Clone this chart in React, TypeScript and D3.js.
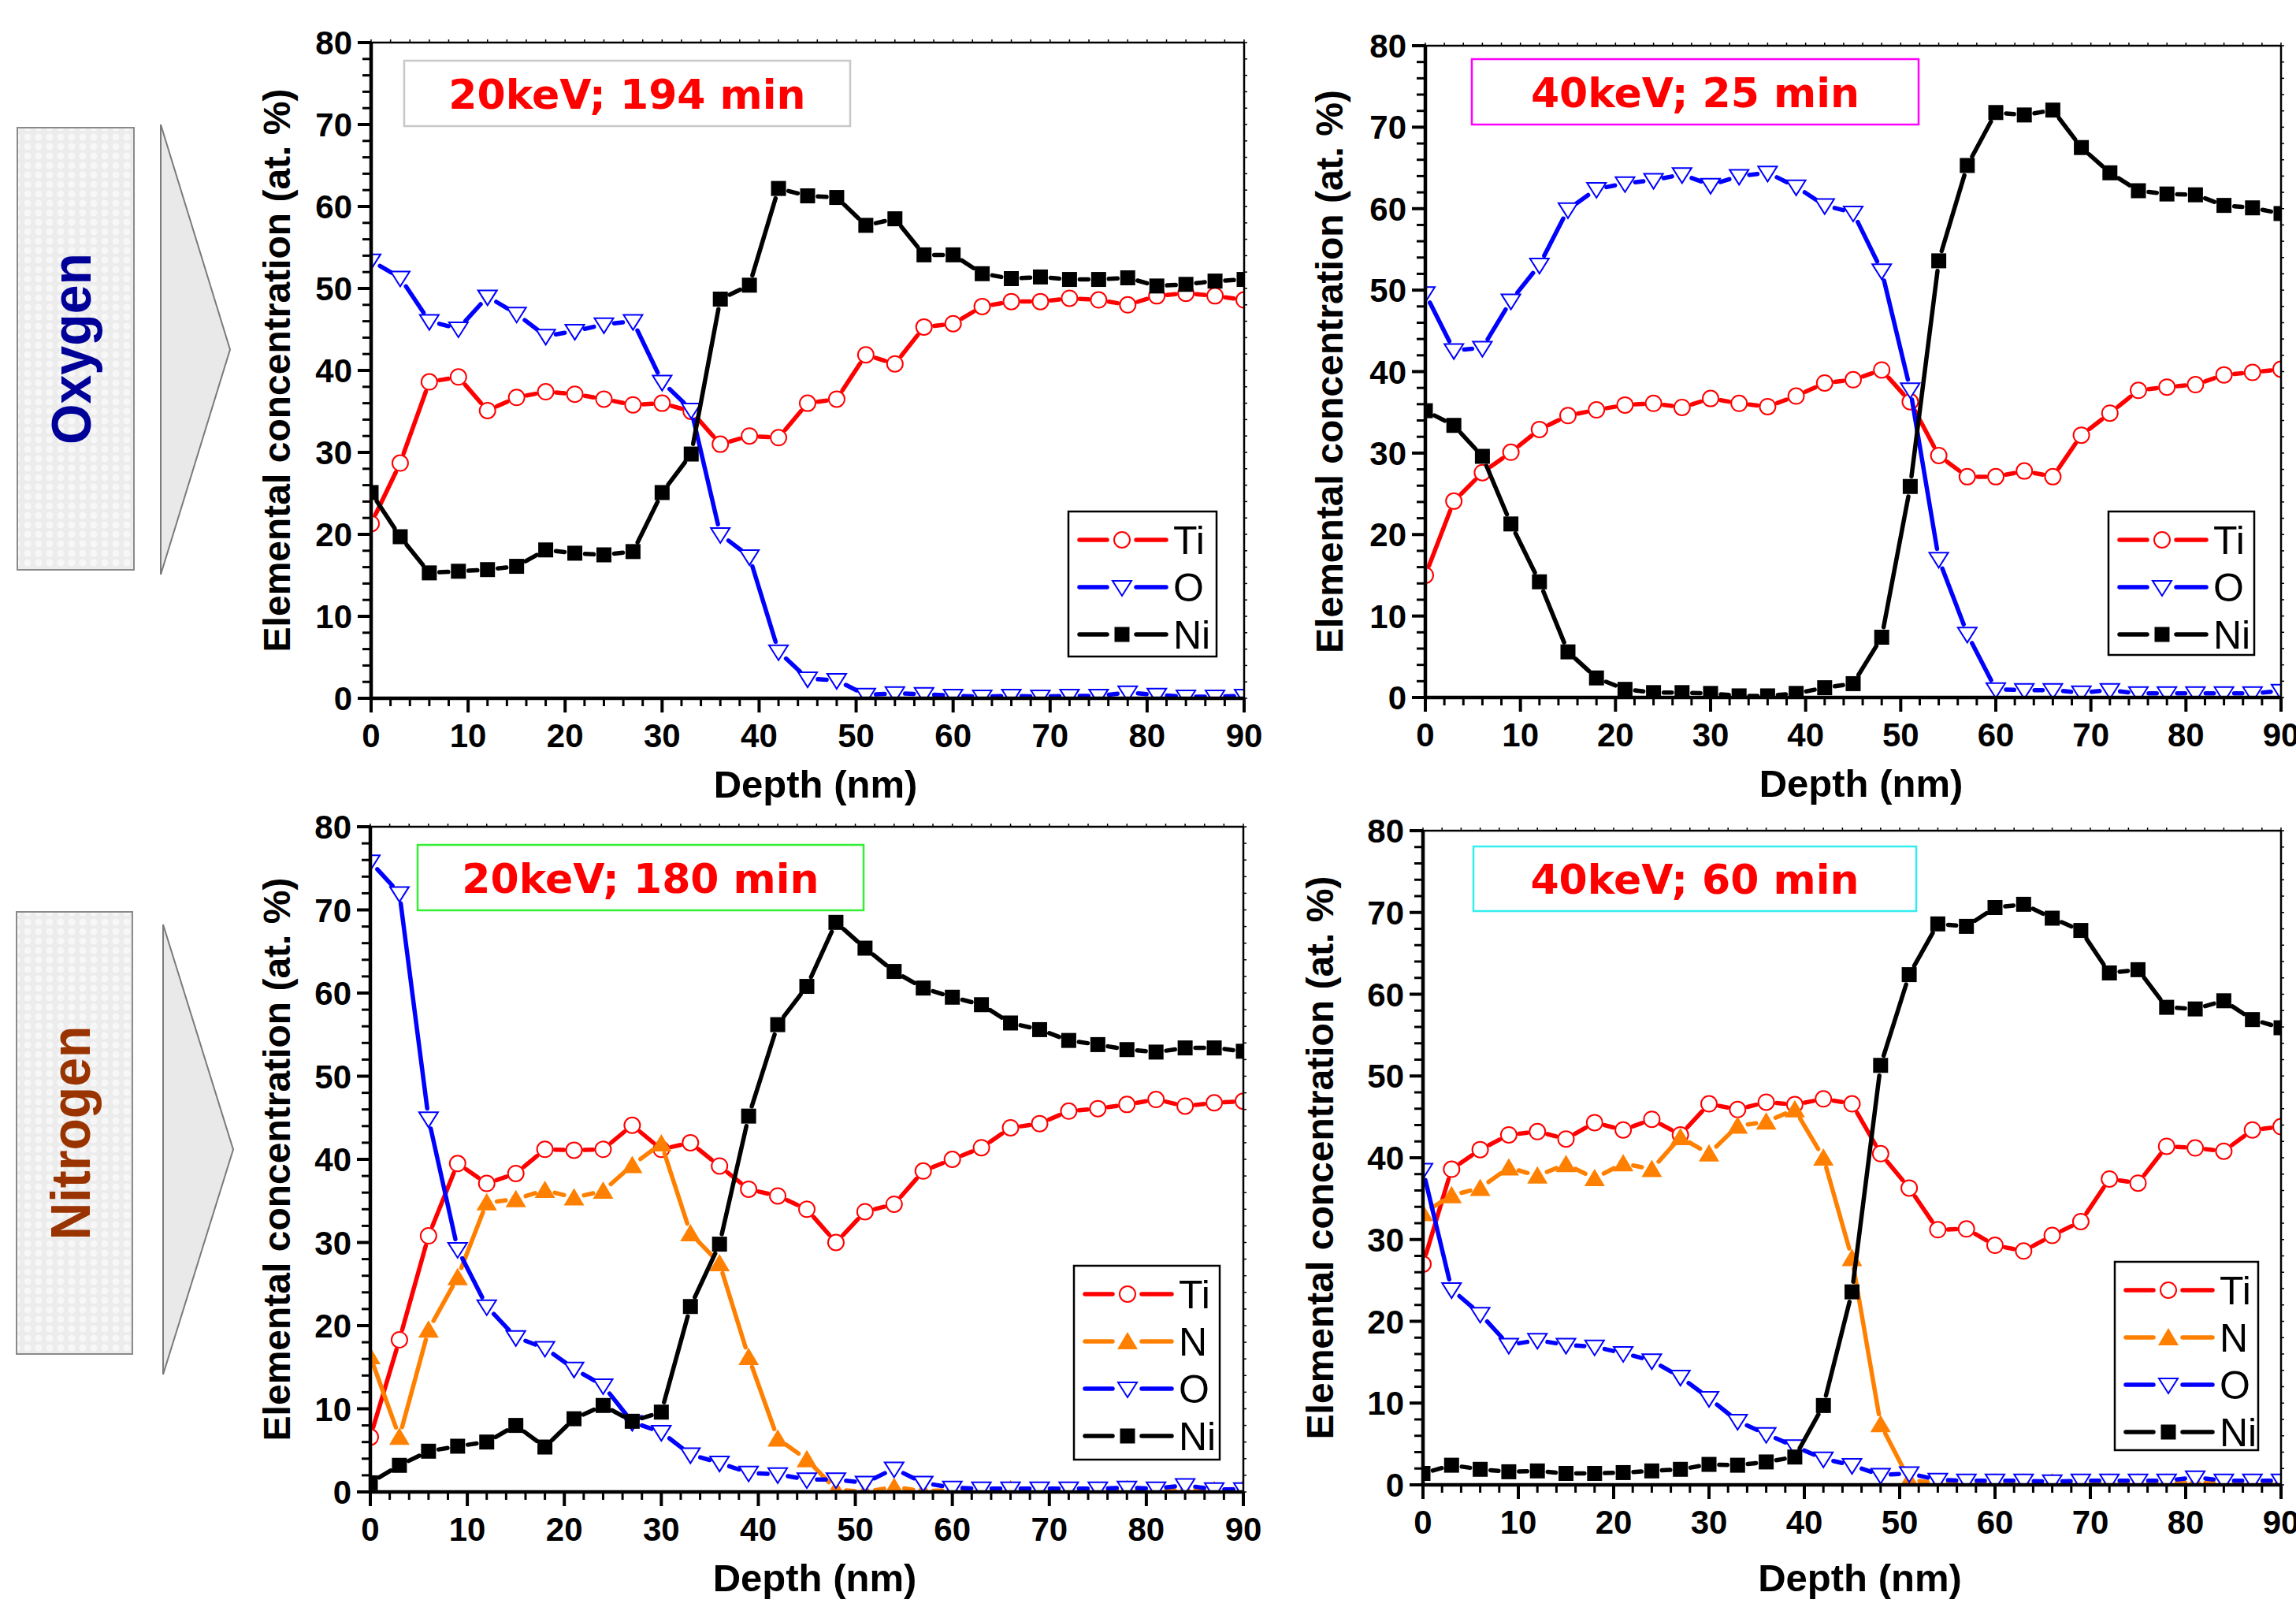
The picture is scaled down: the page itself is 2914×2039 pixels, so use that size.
import React from 'react';
import * as d3 from 'd3';

const W = 2914;
const H = 2039;

// depth (nm) sampling positions
const depth = [0, 3, 6, 9, 12, 15, 18, 21, 24, 27, 30, 33, 36, 39, 42, 45, 48, 51, 54, 57, 60, 63, 66, 69, 72, 75, 78, 81, 84, 87, 90];

const xTicks = [0, 10, 20, 30, 40, 50, 60, 70, 80, 90];
const yTicks = [0, 10, 20, 30, 40, 50, 60, 70, 80];

// Panel 1: Oxygen, 20keV; 194 min
const ox20Ti = [21.3, 28.7, 38.6, 39.2, 35.1, 36.7, 37.4, 37.1, 36.5, 35.8, 36.0, 35.0, 31.0, 32.0, 31.8, 36.0, 36.5, 41.9, 40.8, 45.3, 45.7, 47.8, 48.4, 48.4, 48.8, 48.6, 48.0, 49.1, 49.4, 49.1, 48.6];
const ox20O = [53.4, 51.3, 46.0, 45.1, 49.0, 46.9, 44.2, 44.8, 45.6, 46.0, 38.6, 35.2, 20.0, 17.3, 5.7, 2.4, 2.2, 0.4, 0.6, 0.5, 0.3, 0.2, 0.3, 0.2, 0.3, 0.3, 0.7, 0.4, 0.2, 0.2, 0.3];
const ox20Ni = [25.1, 19.7, 15.3, 15.5, 15.7, 16.1, 18.1, 17.7, 17.5, 17.9, 25.1, 29.8, 48.7, 50.4, 62.2, 61.3, 61.1, 57.7, 58.5, 54.1, 54.1, 51.8, 51.2, 51.4, 51.1, 51.1, 51.3, 50.3, 50.5, 50.9, 51.1];

// Panel 2: Oxygen, 40keV; 25 min
const ox40Ti = [15.0, 24.1, 27.6, 30.1, 32.9, 34.6, 35.3, 35.9, 36.1, 35.6, 36.7, 36.1, 35.7, 37.0, 38.6, 39.0, 40.2, 36.3, 29.7, 27.1, 27.1, 27.8, 27.1, 32.2, 34.9, 37.7, 38.1, 38.4, 39.6, 39.9, 40.3];
const ox40O = [49.6, 42.6, 42.9, 48.7, 53.1, 59.9, 62.4, 63.1, 63.5, 64.2, 62.9, 64.0, 64.4, 62.7, 60.4, 59.5, 52.4, 37.8, 17.0, 7.8, 1.0, 0.9, 0.9, 0.6, 0.9, 0.5, 0.5, 0.5, 0.5, 0.5, 0.8];
const ox40Ni = [35.2, 33.4, 29.6, 21.3, 14.2, 5.6, 2.4, 1.0, 0.6, 0.6, 0.5, 0.2, 0.2, 0.5, 1.2, 1.7, 7.4, 25.9, 53.6, 65.3, 71.8, 71.5, 72.1, 67.5, 64.4, 62.2, 61.8, 61.7, 60.4, 60.1, 59.4];

// Panel 3: Nitrogen, 20keV; 180 min
const ni20Ti = [6.6, 18.3, 30.8, 39.5, 37.1, 38.3, 41.2, 41.1, 41.2, 44.1, 41.2, 42.0, 39.2, 36.4, 35.6, 34.0, 30.0, 33.7, 34.6, 38.6, 40.0, 41.4, 43.8, 44.3, 45.8, 46.1, 46.6, 47.2, 46.4, 46.8, 47.0];
const ni20N = [16.3, 6.6, 19.5, 25.8, 34.8, 35.2, 36.3, 35.4, 36.2, 39.3, 41.9, 31.1, 27.5, 16.2, 6.4, 3.9, 0.3, 0.0, 0.6, 0.1, 0.2, 0.1, 0.3, 0.1, 0.2, 0.1, 0.3, 0.1, 0.2, 0.2, 0.4];
const ni20O = [75.8, 72.0, 44.9, 29.2, 22.3, 18.6, 17.3, 14.8, 12.8, 8.4, 7.2, 4.5, 3.5, 2.3, 2.1, 1.5, 1.5, 1.1, 2.8, 1.1, 0.5, 0.4, 0.4, 0.4, 0.4, 0.4, 0.5, 0.4, 0.8, 0.3, 0.3];
const ni20Ni = [1.1, 3.2, 4.9, 5.5, 6.0, 8.0, 5.4, 8.8, 10.4, 8.5, 9.6, 22.3, 29.8, 45.2, 56.2, 60.8, 68.5, 65.4, 62.6, 60.6, 59.5, 58.6, 56.4, 55.6, 54.3, 53.8, 53.2, 52.9, 53.4, 53.4, 53.0];

// Panel 4: Nitrogen, 40keV; 60 min
const ni40Ti = [27.0, 38.6, 41.0, 42.8, 43.2, 42.3, 44.3, 43.4, 44.7, 42.8, 46.6, 45.9, 46.8, 46.5, 47.2, 46.6, 40.5, 36.3, 31.2, 31.3, 29.3, 28.6, 30.5, 32.2, 37.4, 36.9, 41.4, 41.2, 40.8, 43.4, 43.8];
const ni40N = [33.2, 35.4, 36.3, 38.8, 37.8, 39.2, 37.5, 39.3, 38.6, 42.5, 40.5, 43.9, 44.4, 45.9, 40.0, 27.7, 7.4, 0.6, 0.2, 0.2, 0.3, 0.3, 0.3, 0.2, 0.3, 0.3, 0.3, 0.3, 0.2, 0.3, 0.4];
const ni40O = [38.5, 23.9, 20.9, 17.1, 17.7, 17.1, 16.9, 16.1, 15.2, 13.2, 10.6, 7.8, 6.2, 4.7, 3.2, 2.4, 1.2, 1.4, 0.6, 0.5, 0.5, 0.5, 0.4, 0.5, 0.5, 0.5, 0.5, 0.9, 0.5, 0.5, 0.5];
const ni40Ni = [1.4, 2.4, 1.9, 1.6, 1.7, 1.4, 1.4, 1.5, 1.7, 1.9, 2.5, 2.4, 2.8, 3.4, 9.7, 23.6, 51.3, 62.4, 68.6, 68.3, 70.6, 71.0, 69.3, 67.8, 62.6, 63.0, 58.4, 58.2, 59.2, 56.9, 55.9];

const panelTitles = ['20keV; 194 min', '40keV; 25 min', '20keV; 180 min', '40keV; 60 min'];
const sideLabels = ['Oxygen', 'Nitrogen'];
const xTitle = 'Depth (nm)';
const yTitle = 'Elemental concentration (at. %)';

type MarkerKind = 'circle' | 'square' | 'triUp' | 'triDown';
interface Series { name: string; values: number[]; color: string; marker: MarkerKind; }

const RED = '#ff0000';
const BLUE = '#0000ff';
const ORANGE = '#ff8000';
const BLACK = '#000000';

const ti = (v: number[]): Series => ({ name: 'Ti', values: v, color: RED, marker: 'circle' });
const nn = (v: number[]): Series => ({ name: 'N', values: v, color: ORANGE, marker: 'triUp' });
const oo = (v: number[]): Series => ({ name: 'O', values: v, color: BLUE, marker: 'triDown' });
const nk = (v: number[]): Series => ({ name: 'Ni', values: v, color: BLACK, marker: 'square' });

interface PanelCfg {
  id: string;
  left: number; right: number; top: number; bottom: number;
  title: string; titleBox: [number, number, number, number]; titleBorder: string;
  legend: [number, number, number, number];
  yTitleDx: number; xTitleDy: number;
  series: Series[];
}

const panels: PanelCfg[] = [
  { id: 'p1', left: 471, right: 1579, top: 54, bottom: 886, title: panelTitles[0],
    titleBox: [513, 77, 566, 83], titleBorder: '#c8c8c8', legend: [1356, 649, 188, 184],
    yTitleDx: 103, xTitleDy: 126,
    series: [ti(ox20Ti), oo(ox20O), nk(ox20Ni)] },
  { id: 'p2', left: 1809, right: 2895, top: 58, bottom: 885, title: panelTitles[1],
    titleBox: [1868, 75, 567, 83], titleBorder: '#ff00ff', legend: [2676, 649, 185, 182],
    yTitleDx: 105, xTitleDy: 126,
    series: [ti(ox40Ti), oo(ox40O), nk(ox40Ni)] },
  { id: 'p3', left: 470, right: 1578, top: 1049, bottom: 1893, title: panelTitles[2],
    titleBox: [530, 1072, 566, 83], titleBorder: '#33ee33', legend: [1363, 1606, 185, 246],
    yTitleDx: 102, xTitleDy: 126,
    series: [ti(ni20Ti), nn(ni20N), oo(ni20O), nk(ni20Ni)] },
  { id: 'p4', left: 1806, right: 2895, top: 1054, bottom: 1884, title: panelTitles[3],
    titleBox: [1870, 1074, 562, 82], titleBorder: '#33eeee', legend: [2684, 1601, 182, 239],
    yTitleDx: 114, xTitleDy: 135,
    series: [ti(ni40Ti), nn(ni40N), oo(ni40O), nk(ni40Ni)] },
];

function markerPath(kind: MarkerKind, cx: number, cy: number): string {
  switch (kind) {
    case 'circle':
      return `M${cx - 10},${cy}a10,10 0 1,0 20,0a10,10 0 1,0 -20,0Z`;
    case 'square':
      return `M${cx - 9.5},${cy - 9.5}h19v19h-19Z`;
    case 'triUp':
      return `M${cx},${cy - 12}L${cx + 13},${cy + 10}L${cx - 13},${cy + 10}Z`;
    case 'triDown':
      return `M${cx - 12},${cy - 8}L${cx + 12},${cy - 8}L${cx},${cy + 11}Z`;
  }
}

const isFilled = (k: MarkerKind) => k === 'square' || k === 'triUp';

const GAP = 13;
const FONT = "'Liberation Sans', Arial, sans-serif";

function gappedSegments(pts: [number, number][]): string {
  let d = '';
  for (let i = 0; i < pts.length - 1; i++) {
    const [x0, y0] = pts[i];
    const [x1, y1] = pts[i + 1];
    const dx = x1 - x0, dy = y1 - y0;
    const len = Math.hypot(dx, dy);
    if (len <= 2 * GAP + 1) continue;
    const ux = dx / len, uy = dy / len;
    d += `M${(x0 + ux * GAP).toFixed(1)},${(y0 + uy * GAP).toFixed(1)}L${(x1 - ux * GAP).toFixed(1)},${(y1 - uy * GAP).toFixed(1)}`;
  }
  return d;
}

function Panel({ p }: { p: PanelCfg }) {
  const x = d3.scaleLinear().domain([0, 90]).range([p.left, p.right]);
  const y = d3.scaleLinear().domain([0, 80]).range([p.bottom, p.top]);
  const xMinor = d3.range(0, 91, 2);
  const yMinor = d3.range(0, 81, 2);
  const [lx, ly, lw, lh] = p.legend;
  const [tx, ty, tw, th] = p.titleBox;
  return (
    <g>
      <defs>
        <clipPath id={`clip-${p.id}`}>
          <rect x={p.left} y={p.top} width={p.right - p.left} height={p.bottom - p.top} />
        </clipPath>
      </defs>
      {/* title box */}
      <rect x={tx} y={ty} width={tw} height={th} fill="#fff" stroke={p.titleBorder} strokeWidth={2.5} />
      <text x={tx + tw / 2} y={ty + th / 2 + 19} textAnchor="middle" fontFamily="'DejaVu Sans', Verdana, sans-serif"
        fontWeight="bold" fontSize={52} fill={RED}>{p.title}</text>
      {/* data */}
      <g clipPath={`url(#clip-${p.id})`}>
        {p.series.map((s) => {
          const pts = s.values.map((v, i) => [x(depth[i]), y(v)] as [number, number]);
          return (
            <g key={s.name}>
              <path d={gappedSegments(pts)} fill="none" stroke={s.color} strokeWidth={5.5} strokeLinecap="round" />
              {pts.map(([px, py], i) => (
                <path key={i} d={markerPath(s.marker, px, py)}
                  fill={isFilled(s.marker) ? s.color : '#fff'}
                  stroke={s.color} strokeWidth={isFilled(s.marker) ? 0 : 2} />
              ))}
            </g>
          );
        })}
      </g>
      {/* frame */}
      <line x1={p.left} x2={p.right} y1={p.top} y2={p.top} stroke="#000" strokeWidth={2.5} />
      <line x1={p.right} x2={p.right} y1={p.top} y2={p.bottom} stroke="#000" strokeWidth={2.5} />
      {xMinor.map((t) => (
        <line key={`tt${t}`} x1={x(t)} x2={x(t)} y1={p.top} y2={p.top - 4} stroke="#000" strokeWidth={1.5} />
      ))}
      {yMinor.map((t) => (
        <line key={`rt${t}`} x1={p.right} x2={p.right + 4} y1={y(t)} y2={y(t)} stroke="#000" strokeWidth={1.5} />
      ))}
      {/* bottom axis */}
      <line x1={p.left - 2} x2={p.right + 1} y1={p.bottom} y2={p.bottom} stroke="#000" strokeWidth={4.5} />
      {xMinor.map((t) => {
        const major = t % 10 === 0;
        return <line key={`bx${t}`} x1={x(t)} x2={x(t)} y1={p.bottom} y2={p.bottom + (major ? 18 : 10)} stroke="#000" strokeWidth={major ? 4 : 3} />;
      })}
      {xTicks.map((t) => (
        <text key={`xl${t}`} x={x(t)} y={p.bottom + 62} textAnchor="middle" fontFamily={FONT} fontWeight="bold" fontSize={42}>{t}</text>
      ))}
      <text x={(p.left + p.right) / 2 + 10} y={p.bottom + p.xTitleDy} textAnchor="middle" fontFamily={FONT} fontWeight="bold" fontSize={49}>{xTitle}</text>
      {/* left axis */}
      <line x1={p.left} x2={p.left} y1={p.top - 1} y2={p.bottom + 2} stroke="#000" strokeWidth={4.5} />
      {yMinor.map((t) => {
        const major = t % 10 === 0;
        return <line key={`ly${t}`} x1={p.left} x2={p.left - (major ? 17 : 11)} y1={y(t)} y2={y(t)} stroke="#000" strokeWidth={major ? 4 : 3} />;
      })}
      {yTicks.map((t) => (
        <text key={`yl${t}`} x={p.left - 24} y={y(t) + 15} textAnchor="end" fontFamily={FONT} fontWeight="bold" fontSize={42}>{t}</text>
      ))}
      <text transform={`translate(${p.left - p.yTitleDx},${(p.top + p.bottom) / 2}) rotate(-90)`} textAnchor="middle"
        fontFamily={FONT} fontWeight="bold" fontSize={48}>{yTitle}</text>
      {/* legend */}
      <rect x={lx} y={ly} width={lw} height={lh} fill="#fff" stroke="#000" strokeWidth={2.5} />
      {p.series.map((s, i) => {
        const ry = ly + 36 + i * 60;
        return (
          <g key={`lg${s.name}`}>
            <line x1={lx + 14} x2={lx + 49} y1={ry} y2={ry} stroke={s.color} strokeWidth={5.5} strokeLinecap="round" />
            <line x1={lx + 86} x2={lx + 124} y1={ry} y2={ry} stroke={s.color} strokeWidth={5.5} strokeLinecap="round" />
            <path d={markerPath(s.marker, lx + 68, ry)} fill={isFilled(s.marker) ? s.color : '#fff'}
              stroke={s.color} strokeWidth={isFilled(s.marker) ? 0 : 2} />
            <text x={lx + 133} y={ry + 18} fontFamily={FONT} fontSize={50}>{s.name}</text>
          </g>
        );
      })}
    </g>
  );
}

function SideLabel({ x0, y0, w, h, text, color, triX, tipX, triTop, triBot, textLen }:
  { x0: number; y0: number; w: number; h: number; text: string; color: string; triX: number; tipX: number; triTop: number; triBot: number; textLen: number }) {
  const cy = (triTop + triBot) / 2;
  const midY = y0 + h / 2;
  return (
    <g>
      <rect x={x0} y={y0} width={w} height={h} fill="url(#dots)" stroke="#8a8a8a" strokeWidth={2} />
      <text transform={`translate(${x0 + 93},${midY}) rotate(-90)`} textAnchor="middle" fontFamily={FONT}
        fontWeight="bold" fontSize={70} fill={color} textLength={textLen} lengthAdjust="spacingAndGlyphs">{text}</text>
      <path d={`M${triX},${triTop}L${tipX},${cy}L${triX},${triBot}Z`} fill="#e9e9e9" stroke="#7a7a7a" strokeWidth={2} />
    </g>
  );
}

export default function App() {
  return (
    <svg width={W} height={H} viewBox={`0 0 ${W} ${H}`} style={{ position: 'absolute', left: 0, top: 0, background: '#fff' }}>
      <defs>
        <pattern id="dots" width="14" height="12" patternUnits="userSpaceOnUse">
          <rect width="14" height="12" fill="#ececec" />
          <circle cx="7" cy="6" r="4.5" fill="#f7f7f7" />
        </pattern>
      </defs>
      <rect width={W} height={H} fill="#fff" />
      <SideLabel x0={22} y0={162} w={148} h={561} text={sideLabels[0]} color="#000099" triX={204} tipX={292} triTop={158} triBot={729} textLen={243} />
      <SideLabel x0={21} y0={1157} w={147} h={561} text={sideLabels[1]} color="#993300" triX={207} tipX={296} triTop={1173} triBot={1744} textLen={272} />
      {panels.map((p) => <Panel key={p.id} p={p} />)}
    </svg>
  );
}
